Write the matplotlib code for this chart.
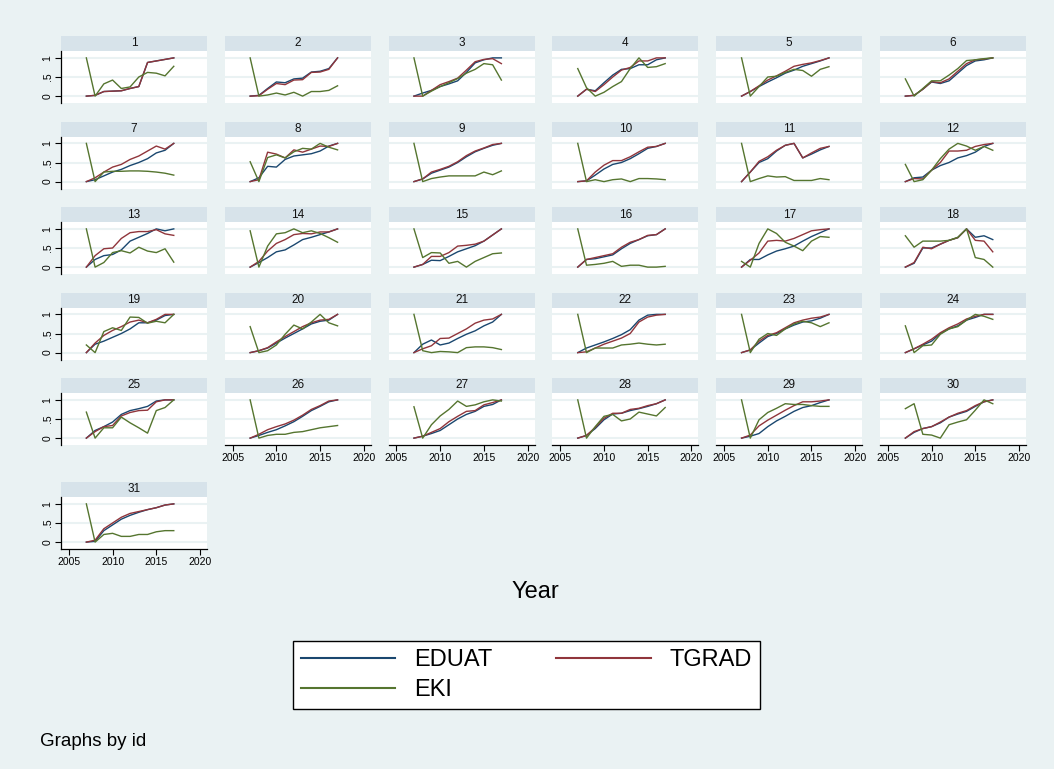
import numpy as np
import matplotlib
matplotlib.use('Agg')
import matplotlib.pyplot as plt

plt.rcParams['font.family'] = ['Liberation Sans', 'DejaVu Sans']

years = list(range(2007, 2018))

eduat = [
    [0, .02, .12, .13, .14, .20, .25, .88, .92, .96, 1],
    [0, .02, .20, .37, .35, .45, .47, .63, .65, .72, 1],
    [0, .08, .15, .25, .32, .40, .62, .87, .95, 1, 1],
    [0, .18, .14, .35, .55, .70, .72, .82, .82, .95, 1],
    [0, .12, .25, .37, .48, .60, .68, .78, .85, .92, 1],
    [0, .02, .18, .37, .33, .40, .60, .80, .92, .95, 1],
    [0, .05, .15, .25, .32, .42, .50, .60, .75, .82, 1],
    [0, .10, .40, .38, .58, .67, .70, .73, .80, .93, 1],
    [0, .07, .22, .30, .38, .50, .65, .78, .87, .95, 1],
    [0, .02, .17, .33, .45, .50, .60, .73, .87, .92, 1],
    [0, .25, .50, .60, .80, .95, 1, .62, .72, .83, .92],
    [0, .10, .12, .30, .42, .50, .62, .68, .77, .92, 1],
    [0, .20, .30, .33, .45, .68, .78, .88, 1, .95, 1],
    [0, .12, .25, .40, .45, .58, .72, .78, .85, .92, 1],
    [0, .07, .18, .17, .28, .40, .48, .56, .68, .84, 1],
    [0, .20, .22, .27, .32, .48, .62, .72, .82, .85, 1],
    [0, .20, .20, .32, .42, .48, .55, .68, .80, .90, 1],
    [0, .10, .50, .50, .60, .70, .77, 1, .78, .82, .72],
    [0, .22, .30, .40, .50, .62, .78, .78, .85, .97, 1],
    [0, .05, .12, .25, .38, .50, .62, .75, .82, .85, 1],
    [0, .22, .33, .20, .25, .37, .48, .57, .70, .80, 1],
    [0, .12, .20, .28, .37, .47, .60, .85, .98, 1, 1],
    [0, .07, .25, .42, .50, .62, .72, .80, .83, .90, 1],
    [0, .10, .20, .30, .50, .62, .70, .85, .92, 1, 1],
    [0, .20, .30, .42, .62, .72, .77, .83, .97, 1, 1],
    [0, .07, .15, .22, .32, .43, .57, .72, .83, .95, 1],
    [0, .05, .12, .20, .35, .50, .62, .70, .83, .88, 1],
    [0, .07, .25, .48, .63, .65, .72, .77, .83, .90, 1],
    [0, .05, .12, .30, .45, .57, .70, .80, .85, .93, 1],
    [0, .15, .25, .30, .40, .55, .63, .70, .83, .95, 1],
    [0, .02, .30, .45, .60, .70, .78, .85, .90, .97, 1],
]

tgrad = [
    [0, .02, .12, .13, .14, .20, .25, .88, .92, .96, 1],
    [0, .01, .18, .33, .30, .42, .43, .62, .63, .70, 1],
    [0, 0, .15, .30, .38, .47, .68, .90, .96, .98, .85],
    [0, .18, .12, .30, .50, .68, .75, .92, .92, 1, 1],
    [0, .12, .27, .42, .53, .65, .78, .83, .87, .93, 1],
    [0, .02, .18, .38, .35, .45, .65, .85, .95, .97, 1],
    [0, .10, .25, .38, .45, .58, .67, .80, .93, .85, 1],
    [0, .05, .77, .72, .62, .83, .77, .85, .93, .92, 1],
    [0, .07, .25, .32, .40, .52, .68, .80, .88, .97, 1],
    [0, .02, .25, .43, .55, .55, .65, .78, .90, .92, 1],
    [0, .25, .53, .65, .82, .95, 1, .62, .75, .87, .92],
    [0, .08, .07, .30, .50, .80, .80, .82, .92, .97, 1],
    [0, .30, .48, .50, .75, .90, .93, .93, .98, .87, .83],
    [0, .15, .42, .62, .72, .85, .88, .87, .92, .92, 1],
    [0, .07, .28, .28, .38, .55, .57, .60, .68, .84, 1],
    [0, .20, .25, .30, .35, .52, .65, .72, .83, .85, 1],
    [0, .18, .37, .68, .70, .68, .75, .85, .95, .98, 1],
    [0, .12, .52, .48, .60, .70, .77, 1, .70, .68, .40],
    [0, .25, .45, .58, .68, .80, .85, .78, .87, 1, 1],
    [0, .05, .13, .28, .42, .55, .68, .78, .85, .87, 1],
    [0, .10, .18, .37, .38, .50, .62, .77, .85, .88, 1],
    [0, .02, .12, .22, .30, .38, .50, .80, .93, .98, 1],
    [0, .07, .30, .45, .52, .65, .78, .85, .90, .93, 1],
    [0, .10, .22, .35, .52, .65, .75, .88, .95, 1, 1],
    [0, .17, .30, .33, .58, .67, .72, .73, .95, 1, 1],
    [0, .10, .22, .30, .37, .47, .60, .75, .85, .97, 1],
    [0, .05, .15, .25, .43, .57, .70, .72, .87, .93, 1],
    [0, .07, .28, .52, .65, .65, .75, .78, .85, .90, 1],
    [0, .08, .32, .47, .60, .73, .85, .95, .95, .97, 1],
    [0, .17, .25, .30, .42, .55, .65, .72, .85, .95, 1],
    [0, .05, .35, .50, .65, .75, .80, .85, .90, .97, 1],
]

eki = [
    [1, 0, .32, .42, .20, .24, .50, .62, .60, .53, .78],
    [1, 0, .03, .08, .03, .10, 0, .12, .12, .15, .27],
    [1, 0, .13, .25, .35, .46, .60, .70, .85, .82, .42],
    [.72, .22, 0, .10, .25, .38, .72, 1, .75, .77, .85],
    [1, 0, .25, .50, .52, .62, .70, .67, .52, .70, .77],
    [.45, 0, .20, .40, .40, .55, .72, .93, .95, .98, 1],
    [1, 0, .25, .27, .27, .28, .28, .27, .25, .22, .17],
    [.52, 0, .63, .70, .62, .78, .87, .85, 1, .90, .83],
    [1, 0, .08, .12, .15, .15, .15, .15, .25, .18, .28],
    [1, 0, .05, 0, .05, .07, 0, .08, .08, .07, .05],
    [1, 0, .08, .15, .12, .13, .03, .03, .03, .08, .05],
    [.45, 0, .05, .30, .60, .85, 1, .93, .82, .92, .82],
    [1, 0, .12, .38, .43, .37, .52, .42, .38, .48, .13],
    [.95, 0, .55, .87, .90, 1, .90, .95, .88, .77, .65],
    [1, .25, .38, .37, .10, .15, 0, .15, .25, .35, .37],
    [1, .05, .07, .10, .15, .02, .05, .05, 0, 0, .02],
    [.15, 0, .62, 1, .88, .65, .55, .43, .68, .80, .78],
    [.82, .52, .68, .68, .68, .70, .78, 1, .25, .20, 0],
    [.20, 0, .55, .65, .58, .93, .92, .77, .82, .78, 1],
    [.68, 0, .05, .20, .48, .72, .62, .80, 1, .78, .70],
    [1, .05, 0, .03, .02, 0, .13, .15, .15, .13, .08],
    [1, 0, .12, .12, .12, .20, .22, .25, .22, .20, .22],
    [1, 0, .35, .50, .45, .62, .75, .82, .78, .68, .78],
    [.70, 0, .18, .20, .48, .62, .68, .85, 1, .95, .87],
    [.68, 0, .27, .27, .55, .40, .27, .13, .72, .80, 1],
    [1, 0, .07, .10, .10, .15, .17, .22, .27, .30, .33],
    [.82, 0, .35, .58, .75, .97, .83, .87, .95, 1, .97],
    [1, 0, .30, .57, .62, .45, .50, .68, .63, .58, .80],
    [1, 0, .48, .67, .78, .90, .88, .88, .85, .83, .83],
    [.77, .90, .10, .08, 0, .35, .42, .48, .73, 1, .90],
    [1, 0, .20, .23, .15, .15, .20, .20, .27, .30, .30],
]

series_names = ['EDUAT', 'TGRAD', 'EKI']
colors = ['#1a476f', '#90353b', '#55752f']
bg = '#eaf2f3'
strip_col = '#d7e3ea'

W, H = 1054, 769
fig = plt.figure(figsize=(W / 100, H / 100), dpi=100, facecolor=bg)

col_x = [61 + 163.8 * c for c in range(6)]
row_y = [36, 121.5, 207, 292.5, 378, 482]
strip_h = 15
plot_h = 52
pw = 146


def fbox(x, y, w, h):
    return [x / W, 1 - (y + h) / H, w / W, h / H]


for i in range(31):
    r, c = divmod(i, 6)
    x, y = col_x[c], row_y[r]

    sax = fig.add_axes(fbox(x, y, pw, strip_h))
    sax.set_facecolor(strip_col)
    sax.set_xticks([])
    sax.set_yticks([])
    for s in sax.spines.values():
        s.set_visible(False)
    sax.text(0.5, 0.5, str(i + 1), ha='center', va='center', fontsize=8.5, color='#111111')

    ax = fig.add_axes(fbox(x, y + strip_h, pw, plot_h))
    ax.set_facecolor('white')
    for yy in [0, .5, 1]:
        ax.axhline(yy, color=bg, lw=1.5, zorder=1)
    for vals, col, name in zip([eduat[i], tgrad[i], eki[i]], colors, series_names):
        ax.plot(years, vals, color=col, lw=1.0, label=name, zorder=2)
    ax.set_xlim(2004.1, 2020.8)
    ax.set_ylim(-0.18, 1.18)
    for s in ax.spines.values():
        s.set_visible(False)

    if c == 0:
        ax.spines['left'].set_visible(True)
        ax.spines['left'].set_linewidth(0.9)
        ax.set_yticks([0, .5, 1])
        ax.set_yticklabels(['0', '.5', '1'], rotation=90, va='center', fontsize=7.5)
        ax.tick_params(axis='y', length=4, width=0.8, pad=2)
    else:
        ax.set_yticks([])

    if i >= 25:
        ax.spines['bottom'].set_visible(True)
        ax.spines['bottom'].set_linewidth(0.9)
        ax.set_xticks([2005, 2010, 2015, 2020])
        ax.tick_params(axis='x', length=4, width=0.8, pad=2, labelsize=7.5)
    else:
        ax.set_xticks([])

    if i == 0:
        handles, labels = ax.get_legend_handles_labels()

fig.text(535 / W, 1 - 592 / H, 'Year', ha='center', va='center', fontsize=17)
fig.text(40 / W, 1 - 742 / H, 'Graphs by id', ha='left', va='center', fontsize=13.5)

# column-wise fill: EDUAT, EKI in first column, TGRAD in second
order = [0, 2, 1]
leg = fig.legend([handles[k] for k in order], [labels[k] for k in order], ncol=2, loc='center',
                 bbox_to_anchor=(526.5 / W, 1 - 675 / H),
                 fontsize=17, handlelength=4.0, columnspacing=2.7, frameon=True, fancybox=False,
                 edgecolor='black', framealpha=1, borderpad=0.35, labelspacing=0.35, handletextpad=0.8,
                 borderaxespad=0)
leg.get_frame().set_linewidth(1.0)
for line in leg.get_lines():
    line.set_linewidth(1.5)

fig.savefig('out.png', dpi=100, facecolor=bg)
